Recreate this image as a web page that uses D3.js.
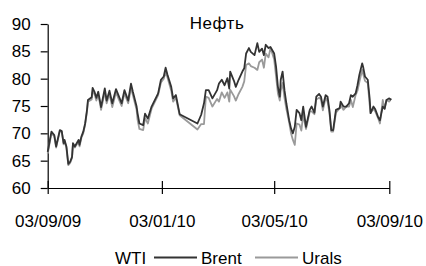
<!DOCTYPE html>
<html>
<head>
<meta charset="utf-8">
<script src="https://cdn.jsdelivr.net/npm/d3@7/dist/d3.min.js"></script>
<style>
  body { margin: 0; background: #fff; }
  text { font-family: "Liberation Sans", Arial, sans-serif; fill: #000; }
</style>
</head>
<body>
<svg id="chart" width="426" height="266"></svg>
<script>
const dates = [
  "2009-09-03","2009-09-07","2009-09-10","2009-09-12","2009-09-16","2009-09-18","2009-09-20","2009-09-21",
  "2009-09-23","2009-09-25","2009-09-27","2009-09-29","2009-09-30","2009-10-02","2009-10-06","2009-10-07",
  "2009-10-09","2009-10-11","2009-10-13","2009-10-15","2009-10-16","2009-10-20","2009-10-21","2009-10-23",
  "2009-10-25","2009-10-27","2009-10-29","2009-10-30","2009-11-03","2009-11-05","2009-11-08","2009-11-11",
  "2009-11-15","2009-11-18","2009-11-21","2009-11-24","2009-11-28","2009-12-01","2009-12-03","2009-12-07",
  "2009-12-08","2009-12-10","2009-12-14","2009-12-16","2009-12-19","2009-12-23","2009-12-30","2010-01-02",
  "2010-01-05","2010-01-07","2010-01-09","2010-01-13","2010-01-15","2010-01-18","2010-01-22","2010-02-10",
  "2010-02-14","2010-02-17","2010-02-19","2010-02-22","2010-02-26","2010-03-03","2010-03-05","2010-03-08",
  "2010-03-11","2010-03-14","2010-03-16","2010-03-17","2010-03-21","2010-03-23","2010-03-26","2010-03-30",
  "2010-04-01","2010-04-03","2010-04-06","2010-04-08","2010-04-12","2010-04-15","2010-04-17","2010-04-20",
  "2010-04-22","2010-04-24","2010-04-27","2010-04-29","2010-05-01","2010-05-03","2010-05-05","2010-05-07",
  "2010-05-09","2010-05-10","2010-05-12","2010-05-14","2010-05-16","2010-05-19","2010-05-21","2010-05-23",
  "2010-05-25","2010-05-27","2010-05-30","2010-06-01","2010-06-03","2010-06-06","2010-06-10","2010-06-12",
  "2010-06-15","2010-06-17","2010-06-20","2010-06-22","2010-06-24","2010-06-27","2010-06-29","2010-07-01",
  "2010-07-03","2010-07-05","2010-07-08","2010-07-12","2010-07-13","2010-07-16","2010-07-19","2010-07-22",
  "2010-07-24","2010-07-26","2010-07-29","2010-07-31","2010-08-02","2010-08-05","2010-08-06","2010-08-08",
  "2010-08-11","2010-08-13","2010-08-14","2010-08-17","2010-08-19","2010-08-22","2010-08-24","2010-08-27",
  "2010-08-29","2010-08-31","2010-09-03","2010-09-05"
];

const brent = [
  66.6,70.3,69.7,67.6,70.6,70.4,68.2,68.8,67.6,64.4,64.8,65.7,68.2,67.6,68.8,67.9,
  69.4,70.3,71.8,74.3,76.1,76.6,78.3,77.6,76.5,77.6,75.8,74.8,78.2,76.0,77.8,75.5,
  78.1,76.8,75.5,77.9,76.0,79.1,77.6,74.9,73.7,71.8,71.5,73.6,72.7,74.9,77.3,79.8,
  80.4,82.0,80.7,78.5,76.4,77.0,73.5,71.8,73.4,75.5,77.9,77.9,76.4,77.9,79.1,79.8,
  78.8,80.1,78.2,81.3,79.6,78.5,79.8,81.3,81.9,84.6,85.6,84.9,84.3,86.5,84.9,85.5,
  84.3,86.2,85.6,85.8,85.2,84.6,82.2,78.5,76.7,79.8,81.3,77.9,75.5,72.4,70.9,70.0,
  71.2,74.3,73.7,72.4,74.9,71.2,74.3,74.9,73.8,76.7,77.2,76.7,74.9,77.0,76.7,74.3,
  70.6,70.6,74.3,74.6,75.8,74.9,74.9,75.5,77.0,76.7,77.3,78.8,80.7,82.8,82.2,80.4,
  79.8,76.4,73.7,74.9,74.4,73.0,72.4,74.9,74.5,76.1,76.4,76.1
];

const urals = [
  66.3,70.0,69.5,67.4,70.4,70.3,68.0,68.6,67.3,64.2,64.6,65.5,68.0,67.4,68.5,67.6,
  69.2,70.0,71.6,74.0,75.8,76.2,77.6,77.2,76.0,77.0,75.4,74.3,77.6,75.5,77.2,74.8,
  77.5,76.2,75.0,77.3,75.5,78.3,77.0,74.3,72.5,70.8,70.6,72.8,71.8,74.5,77.0,79.3,
  80.0,81.2,80.2,77.8,75.8,76.5,73.3,70.7,71.7,71.7,76.7,76.5,74.9,76.3,75.8,77.5,
  76.5,77.5,75.8,78.0,76.8,76.0,77.2,78.5,79.5,82.5,82.8,82.3,82.0,81.6,83.0,83.5,
  82.0,84.6,83.9,85.6,84.6,83.5,80.4,77.3,76.0,77.8,79.2,76.5,74.5,72.0,70.0,68.8,
  67.9,71.8,71.6,70.5,73.4,70.8,74.0,74.0,73.5,76.2,76.5,76.2,74.2,76.5,75.8,73.8,
  70.3,70.3,73.8,74.6,75.2,74.3,74.9,74.9,76.1,74.8,77.0,77.8,79.4,81.6,80.9,79.6,
  79.2,75.3,73.7,74.5,74.0,72.8,71.8,76.1,74.5,76.1,75.8,76.4
];

const seriesNames = ["WTI", "Brent", "Urals"];
const seriesColors = ["#ffffff", "#333333", "#9a9a9a"];
const xTickDates = ["2009-09-03", "2010-01-03", "2010-05-03", "2010-09-03"];
const yTicks = [60, 65, 70, 75, 80, 85, 90];

const parse = d3.timeParse("%Y-%m-%d");
const svg = d3.select("#chart");

const x = d3.scaleTime()
  .domain([parse("2009-09-03"), parse("2010-09-03")])
  .range([47.7, 389.3]);

const y = d3.scaleLinear()
  .domain([60, 90])
  .range([188, 24]);

// ось Y
const yAxis = svg.append("g")
  .attr("transform", "translate(47.7,0)")
  .call(d3.axisLeft(y).tickValues(yTicks).tickSize(7).tickSizeOuter(0).tickPadding(10));
yAxis.selectAll("text").style("font-size", "17px");

// ось X, засечки пересекают ось
const xAxis = svg.append("g")
  .attr("transform", "translate(0,188)")
  .call(d3.axisBottom(x).tickValues(xTickDates.map(parse)).tickSizeOuter(0)
    .tickFormat(d3.timeFormat("%d/%m/%y")));
xAxis.selectAll(".tick line").attr("y1", -7).attr("y2", 6);
xAxis.selectAll(".tick text").attr("y", 38.5).attr("dy", 0).style("font-size", "17px");

svg.selectAll(".domain, .tick line").attr("stroke", "#000").attr("stroke-width", 1.2);

// линии
const line = d3.line()
  .x((d, i) => x(parse(dates[i])))
  .y(d => y(d));

[[urals, 2], [brent, 1]].forEach(([vals, k]) => {
  svg.append("path")
    .datum(vals)
    .attr("d", line)
    .attr("fill", "none")
    .attr("stroke", seriesColors[k])
    .attr("stroke-width", 1.8)
    .attr("stroke-linejoin", "round");
});

// заголовок
svg.append("text")
  .attr("x", 217).attr("y", 29)
  .attr("text-anchor", "middle")
  .style("font-size", "17px")
  .style("letter-spacing", "0.5px")
  .text("Нефть");

// легенда
const legendX = [68, 154, 255];
const lg = svg.append("g");
seriesNames.forEach((name, i) => {
  lg.append("line")
    .attr("x1", legendX[i]).attr("x2", legendX[i] + 43)
    .attr("y1", 257.5).attr("y2", 257.5)
    .attr("stroke", seriesColors[i]).attr("stroke-width", 1.8);
  lg.append("text")
    .attr("x", legendX[i] + 47).attr("y", 263.5)
    .style("font-size", "17px")
    .text(name);
});
</script>
</body>
</html>
